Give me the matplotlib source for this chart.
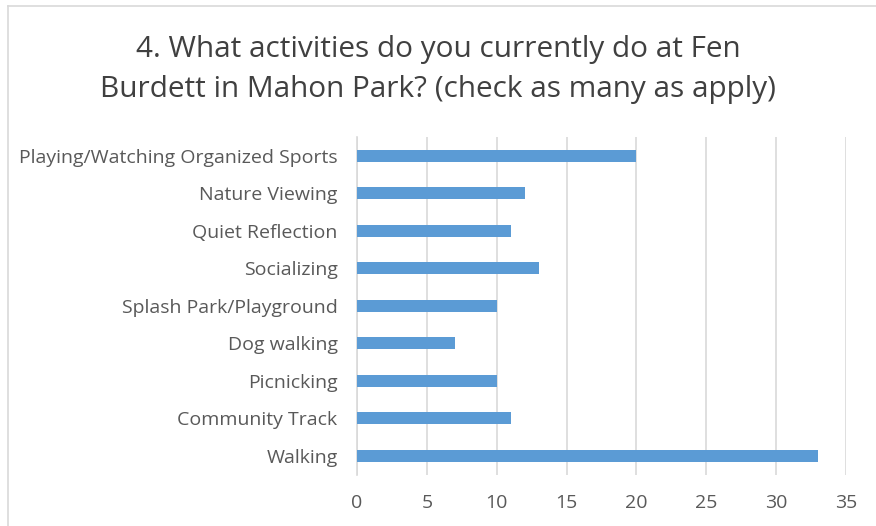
import matplotlib
matplotlib.use("Agg")
import matplotlib.pyplot as plt
from matplotlib.lines import Line2D

categories = ["Playing/Watching Organized Sports", "Nature Viewing", "Quiet Reflection",
              "Socializing", "Splash Park/Playground", "Dog walking", "Picnicking",
              "Community Track", "Walking"]
values = [20, 12, 11, 13, 10, 7, 10, 11, 33]
xticks = [0, 5, 10, 15, 20, 25, 30, 35]
title = "4. What activities do you currently do at Fen\nBurdett in Mahon Park? (check as many as apply)"

plt.rcParams['font.family'] = ['Open Sans', 'DejaVu Sans']

fig = plt.figure(figsize=(8.76, 5.26), dpi=100)
ax = fig.add_axes([357/876, 1-474.5/526, (846-357)/876, (474.5-137)/526])

ypos = list(range(len(categories)))[::-1]
ax.barh(ypos, values, height=0.33, color="#5b9bd5", zorder=3)
ax.set_ylim(-0.5, len(categories) - 0.5)
ax.set_xlim(0, 35)
ax.set_xticks(xticks)
ax.set_yticks(ypos)
ax.set_yticklabels(categories)
ax.tick_params(axis='both', length=0, labelsize=14, colors="#595959")
ax.tick_params(axis='x', pad=14)
ax.tick_params(axis='y', pad=14)
ax.grid(axis='x', color="#d9d9d9", linewidth=1.2, zorder=0)
for s in ["top", "right", "bottom"]:
    ax.spines[s].set_visible(False)
ax.spines["left"].set_color("#d9d9d9")
ax.spines["left"].set_linewidth(1.2)

fig.text(0.5, 1-69.5/526, title, ha="center", va="center", fontsize=21.4,
         color="#404040", linespacing=1.47)

fig.add_artist(Line2D([8/876, 1], [1-6/526, 1-6/526], color="#d9d9d9", lw=1.2))
fig.add_artist(Line2D([8/876, 8/876], [0, 1-6/526], color="#d9d9d9", lw=1.2))

fig.savefig("out.png", dpi=100, facecolor="white")
